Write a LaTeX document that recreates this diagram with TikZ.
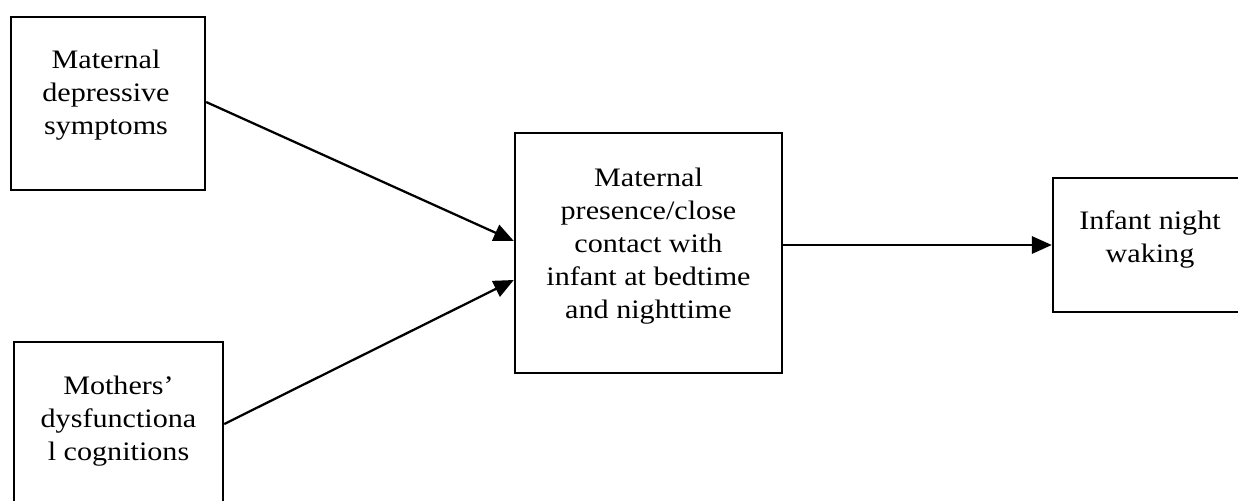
\documentclass[tikz,border=0pt]{standalone}
\usepackage{fontspec}
\setmainfont[FakeStretch=1.13]{Liberation Serif}
\usetikzlibrary{arrows.meta}
\begin{document}
\begin{tikzpicture}[x=0.75pt,y=-0.75pt,
  boxnode/.style={draw=black, line width=1.8pt, rectangle, inner sep=0pt},
  txt/.style={align=center, font=\fontsize{20}{24.75}\selectfont, inner sep=0pt},
  conn/.style={line width=1.7pt, -{Triangle[length=15pt,width=13pt]}}]
\useasboundingbox (0,0) rectangle (1238,500);
\clip (0,0) rectangle (1238,500);
\fill[white] (0,0) rectangle (1238,500);
% boxes
\node[boxnode, minimum width=145.5pt, minimum height=129.75pt] (b1) at (108,103.5) {};
\node[boxnode, minimum width=156.75pt, minimum height=131.25pt] (b2) at (118.5,429.5) {};
\node[boxnode, minimum width=200.25pt, minimum height=180pt] (b3) at (648.5,253) {};
\node[boxnode, minimum width=145.5pt, minimum height=100.5pt] (b4) at (1150,245) {};
% texts
\node[txt] (t1) at (106,95) {Maternal\\depressive\\symptoms};
\node[txt] (t2) at (118.5,421.5) {Mothers’\\dysfunctiona\\l cognitions};
\node[txt] (t3) at (648.5,246) {Maternal\\presence/close\\contact with\\infant at bedtime\\and nighttime};
\node[txt] (t4) at (1150,239) {Infant night\\waking};
% connectors
\draw[conn] ([yshift=1.1pt]b1.east) -- ([yshift=9pt]b3.west);
\draw[conn] ([yshift=4.1pt]b2.east) -- ([yshift=-20.25pt]b3.west);
\draw[conn] ([yshift=6pt]b3.east) -- (b4.west);
\end{tikzpicture}
\end{document}
